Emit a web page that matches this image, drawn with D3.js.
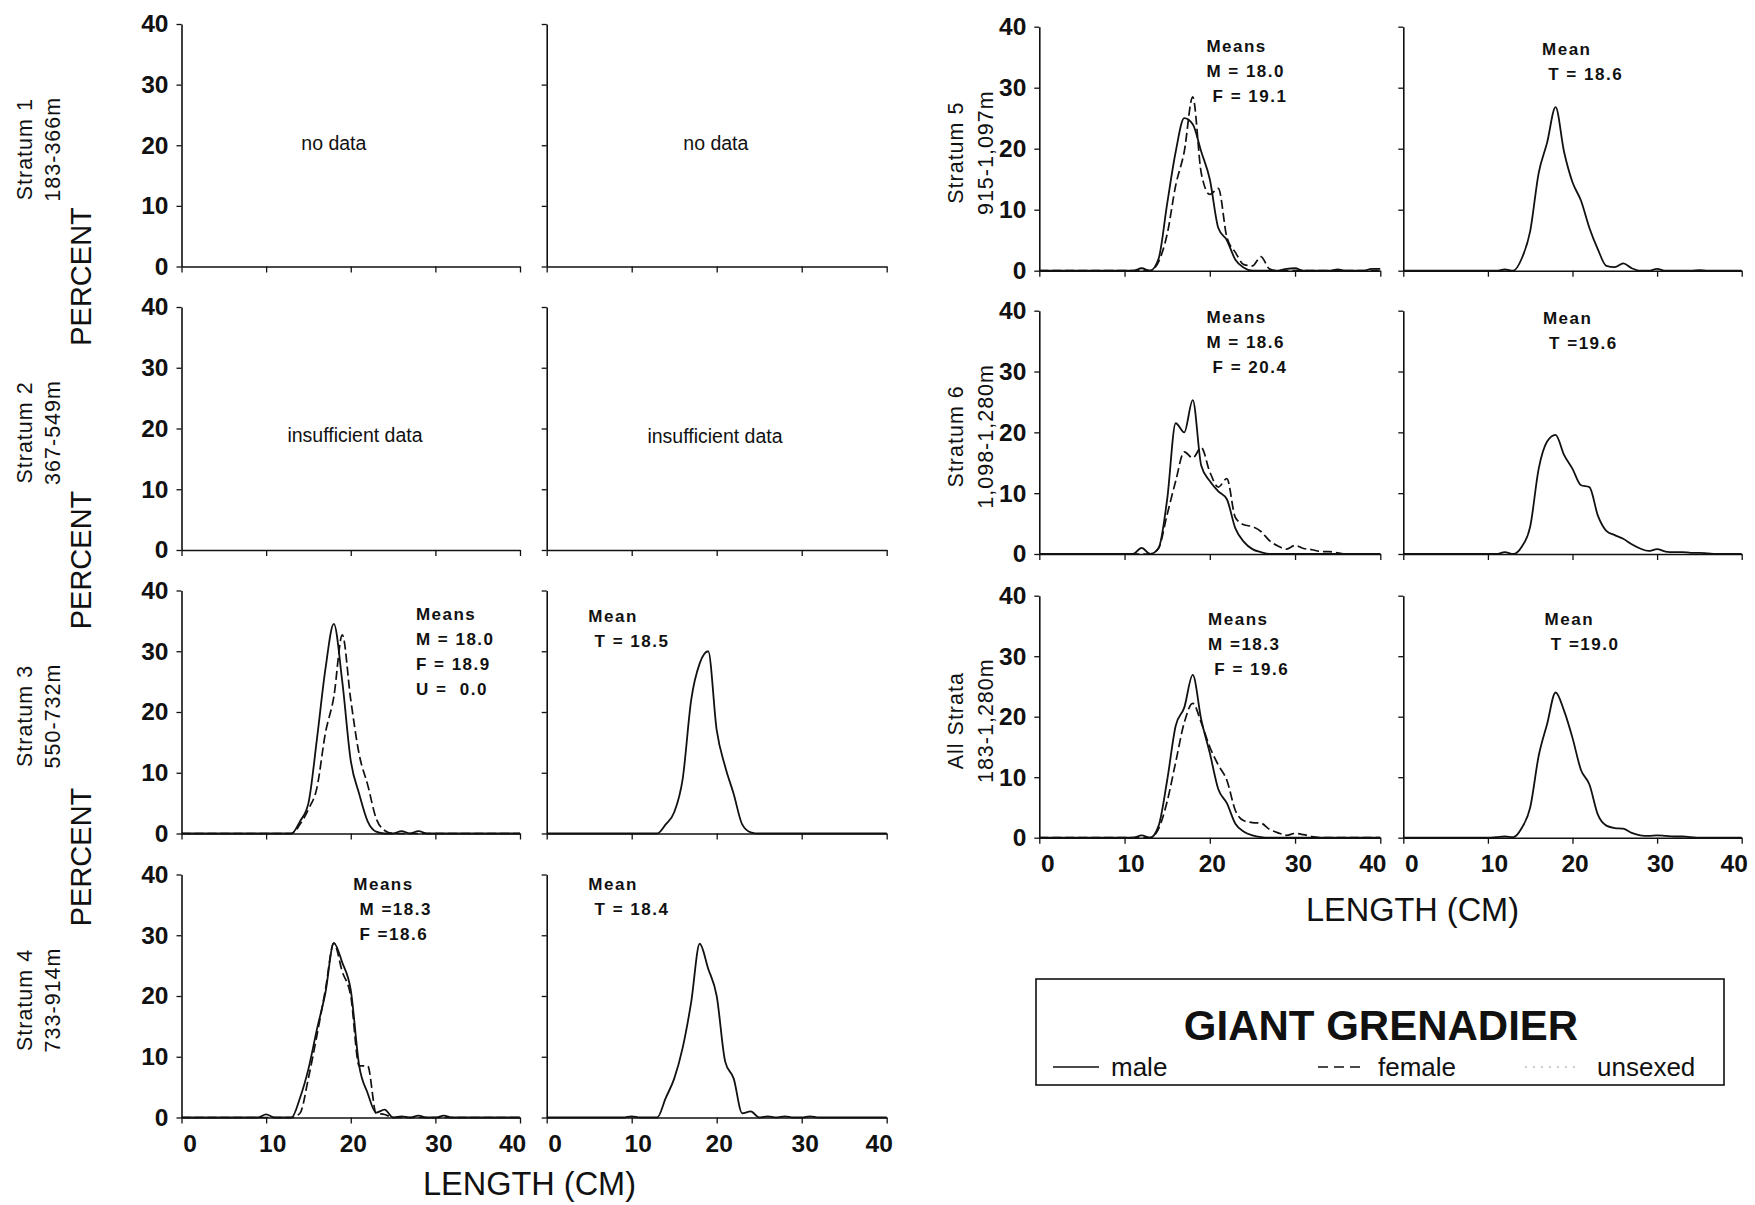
<!DOCTYPE html>
<html><head><meta charset="utf-8">
<script src="https://cdn.jsdelivr.net/npm/d3@7/dist/d3.min.js"></script>
<style>
html,body{margin:0;padding:0;background:#fff;}
svg{display:block;background:#fff;}
text{font-family:"Liberation Sans", Arial, Helvetica, sans-serif; fill:#111;}
</style></head><body>
<svg id="chart" width="1755" height="1205"></svg>
<script>
// ---------- DATA ----------
const lengthsCm = [0,1,2,3,4,5,6,7,8,9,10,11,12,13,14,15,16,17,18,19,20,21,22,23,24,25,26,27,28,29,30,31,32,33,34,35,36,37,38,39,40];
const xTickValues = [0,10,20,30,40];
const yTickValues = [0,10,20,30,40];

const s3Male   = [0,0,0,0,0,0,0,0,0,0, 0,0,0,0,2,5,15.5,27,34.5,25, 12,6.5,2,0.3,0,0,0.4,0,0.4,0, 0,0,0,0,0,0,0,0,0,0,0];
const s3Female = [0,0,0,0,0,0,0,0,0,0, 0,0,0,0,1.5,4,7.5,16.5,22.5,32.7, 22,13,8,2.5,0.5,0,0,0,0,0, 0,0,0,0,0,0,0,0,0,0,0];
const s3Total  = [0,0,0,0,0,0,0,0,0,0, 0,0,0,0,1.5,3.5,9,22,28,30, 17,11,6.5,1.5,0.2,0,0,0,0,0, 0,0,0,0,0,0,0,0,0,0,0];

const s4Male   = [0,0,0,0,0,0,0,0,0,0, 0.5,0,0,0,3.2,8,14.5,20.5,28.7,25.5, 21,8.5,4,0.8,1.3,0,0.2,0,0.3,0, 0,0.3,0,0,0,0,0,0,0,0,0];
const s4Female = [0,0,0,0,0,0,0,0,0,0, 0,0,0,0,0.7,6.5,13.5,21,28.7,24, 20,8.5,8.5,0.7,0.5,0,0,0,0,0, 0,0,0,0,0,0,0,0,0,0,0];
const s4Total  = [0,0,0,0,0,0,0,0,0,0, 0.2,0,0,0,3.2,6.4,11.5,19,28.6,24.5, 20,9.2,6.4,0.7,1,0,0.2,0,0.2,0, 0,0.2,0,0,0,0,0,0,0,0,0];

const s5Male   = [0,0,0,0,0,0,0,0,0,0, 0,0,0.4,0,2,11,19.5,25,24,19.5, 15,7,5,1.8,0.5,0,0,0,0,0.3, 0.4,0,0,0,0,0.2,0,0,0,0.3,0.3];
const s5Female = [0,0,0,0,0,0,0,0,0,0, 0,0,0,0,1.5,6,14,19.5,28.5,16, 12.5,13.5,5.5,3,1,0.8,2.3,0.3,0,0, 0,0,0,0,0,0,0,0,0,0,0];
const s5Total  = [0,0,0,0,0,0,0,0,0,0, 0,0,0.2,0,2,6.5,16,21,26.8,19.5, 14.5,11.5,7,3.5,0.8,0.6,1.2,0.4,0,0, 0.3,0,0,0,0,0.1,0,0,0,0,0];

const s6Male   = [0,0,0,0,0,0,0,0,0,0, 0,0,1,0,1,9,21.5,20,25.3,14.5, 12,10.3,9,4.2,2,0.8,0.3,0,0,0, 0,0,0,0,0,0,0,0,0,0,0];
const s6Female = [0,0,0,0,0,0,0,0,0,0, 0,0,0,0,1,6.5,12,16.8,15.8,17.5, 13.5,11,12.4,6,4.8,4.5,3.7,2.2,1.3,0.8, 1.4,0.9,0.7,0.4,0.4,0.2,0,0,0,0,0];
const s6Total  = [0,0,0,0,0,0,0,0,0,0, 0,0,0.3,0,1.2,4.5,14,18.5,19.6,16.3, 14,11.3,11,6.3,3.8,3.1,2.5,1.6,0.9,0.5, 0.8,0.4,0.3,0.3,0.2,0.2,0.1,0,0,0,0];

const allMale   = [0,0,0,0,0,0,0,0,0,0, 0,0,0.4,0,2,9.5,18.5,21.5,26.9,19.5, 14,8,5.7,2.3,1,0.4,0.1,0,0,0, 0,0,0,0,0,0,0,0,0,0,0];
const allFemale = [0,0,0,0,0,0,0,0,0,0, 0,0,0,0,1.5,6,12.5,19,22.2,19, 15,12,9.5,4.5,2.8,2.5,2.4,1.4,0.8,0.4, 0.7,0.5,0.2,0,0,0,0,0,0,0,0];
const allTotal  = [0,0,0,0,0,0,0,0,0,0, 0,0.1,0.2,0.1,1.6,5,13.5,18.8,24,21, 16.5,11.2,8.8,3.8,2,1.6,1.5,0.8,0.4,0.3, 0.4,0.3,0.2,0.2,0.1,0,0,0,0,0,0];

const stratumNames = ["Stratum 1","Stratum 2","Stratum 3","Stratum 4","Stratum 5","Stratum 6","All Strata"];
const depthRanges  = ["183-366m","367-549m","550-732m","733-914m","915-1,097m","1,098-1,280m","183-1,280m"];

const notesS3M = ["Means","M = 18.0","F = 18.9","U =  0.0"];
const notesS3T = ["Mean"," T = 18.5"];
const notesS4M = ["Means"," M =18.3"," F =18.6"];
const notesS4T = ["Mean"," T = 18.4"];
const notesS5M = ["Means","M = 18.0"," F = 19.1"];
const notesS5T = ["Mean"," T = 18.6"];
const notesS6M = ["Means","M = 18.6"," F = 20.4"];
const notesS6T = ["Mean"," T =19.6"];
const notesAllM = ["Means","M =18.3"," F = 19.6"];
const notesAllT = ["Mean"," T =19.0"];

const legendTitle = "GIANT GRENADIER";
const legendItems = ["male","female","unsexed"];

// ---------- LAYOUT ----------
const colX = {A:[181.5,520], B:[546.7,886.7], C:[1039.3,1380.3], D:[1403.3,1741.7]};
const rowY = {1:[266.5,24], 2:[550,307], 3:[833.5,590.5], 4:[1117.5,874.5],
              5:[270.7,26.7], 6:[554,310.7], 7:[837.7,595.7]};
const xLabelShift = [8, 6, 2, 3, -8];

const panels = [
  {col:"A",row:1,msg:"no data",msgAt:[18,20.4]},
  {col:"B",row:1,msg:"no data",msgAt:[19.9,20.3]},
  {col:"A",row:2,msg:"insufficient data",msgAt:[20.5,19]},
  {col:"B",row:2,msg:"insufficient data",msgAt:[19.8,18.8]},
  {col:"A",row:3,male:s3Male,female:s3Female,note:notesS3M,noteAt:[27.7,36.0]},
  {col:"B",row:3,total:s3Total,note:notesS3T,noteAt:[4.9,35.7]},
  {col:"A",row:4,male:s4Male,female:s4Female,note:notesS4M,noteAt:[20.3,38.4]},
  {col:"B",row:4,total:s4Total,note:notesS4T,noteAt:[4.9,38.4]},
  {col:"C",row:5,male:s5Male,female:s5Female,note:notesS5M,noteAt:[19.6,36.7]},
  {col:"D",row:5,total:s5Total,note:notesS5T,noteAt:[16.4,36.3]},
  {col:"C",row:6,male:s6Male,female:s6Female,note:notesS6M,noteAt:[19.6,38.9]},
  {col:"D",row:6,total:s6Total,note:notesS6T,noteAt:[16.5,38.7]},
  {col:"C",row:7,male:allMale,female:allFemale,note:notesAllM,noteAt:[19.8,36.1]},
  {col:"D",row:7,total:allTotal,note:notesAllT,noteAt:[16.7,36.0]}
];

const svg = d3.select("#chart");
svg.append("rect").attr("width",1755).attr("height",1205).attr("fill","#fff");

panels.forEach(p => {
  const [x0,x1] = colX[p.col];
  const [y0,y1] = rowY[p.row];
  const x = d3.scaleLinear().domain([0,40]).range([x0,x1]);
  const y = d3.scaleLinear().domain([0,40]).range([y0,y1]);
  const g = svg.append("g");
  const showY = (p.col === "A" || p.col === "C");
  const showX = (p.row === 4 || p.row === 7);

  const yAxis = d3.axisLeft(y).tickValues(yTickValues).tickSize(5).tickSizeOuter(0)
    .tickPadding(8).tickFormat(showY ? (d => d) : (() => ""));
  const ya = g.append("g").attr("transform",`translate(${x0},0)`).call(yAxis);
  const xAxis = d3.axisBottom(x).tickValues(xTickValues).tickSize(6).tickSizeOuter(0)
    .tickPadding(11).tickFormat(showX ? (d => d) : (() => ""));
  const xa = g.append("g").attr("transform",`translate(0,${y0})`).call(xAxis);

  [ya, xa].forEach(a => {
    a.select(".domain").attr("stroke","#111").attr("stroke-width",1.6);
    a.selectAll(".tick line").attr("stroke","#111").attr("stroke-width",1.3);
    a.selectAll(".tick text").attr("font-size",24.5).attr("font-weight","bold")
      .attr("font-family","'Liberation Sans', Arial, sans-serif").attr("fill","#111");
  });
  xa.selectAll(".tick text").attr("dx", (d,i) => xLabelShift[i]);

  const line = d3.line().curve(d3.curveMonotoneX)
    .x((d,i) => x(lengthsCm[i])).y(d => y(d));
  if (p.female) {
    g.append("path").datum(p.female).attr("d", line).attr("fill","none")
      .attr("stroke","#111").attr("stroke-width",1.7).attr("stroke-dasharray","9,4");
  }
  if (p.male) {
    g.append("path").datum(p.male).attr("d", line).attr("fill","none")
      .attr("stroke","#111").attr("stroke-width",1.8);
  }
  if (p.total) {
    g.append("path").datum(p.total).attr("d", line).attr("fill","none")
      .attr("stroke","#111").attr("stroke-width",1.8);
  }
  if (p.msg) {
    g.append("text").attr("x", x(p.msgAt[0])).attr("y", y(p.msgAt[1]))
      .attr("text-anchor","middle").attr("dominant-baseline","central")
      .attr("font-size",19.5).text(p.msg);
  }
  if (p.note) {
    const t = g.append("text").attr("font-size",17).attr("font-weight","bold")
      .attr("letter-spacing",1.5).style("white-space","pre");
    p.note.forEach((s,i) => {
      t.append("tspan").attr("x", x(p.noteAt[0])).attr("y", y(p.noteAt[1]) + i*25)
        .attr("dominant-baseline","central").text(s);
    });
  }
});

// Stratum labels (rotated)
stratumNames.forEach((name,i) => {
  const row = i + 1;
  const right = row >= 5;
  const ax = right ? colX.C[0] : colX.A[0];
  const [y0,y1] = rowY[row];
  const cy = (y0 + y1) / 2 + 4;
  const lx1 = ax - (right ? 83 : 156.5);
  const lx2 = ax - (right ? 53 : 129);
  [[name,lx1],[depthRanges[i],lx2]].forEach(([s,lx]) => {
    svg.append("text").attr("transform",`translate(${lx},${cy}) rotate(-90)`)
      .attr("text-anchor","middle").attr("dominant-baseline","central")
      .attr("font-size",21.5).attr("letter-spacing",1).text(s);
  });
});

// PERCENT labels
[276.5, 560, 857].forEach(cy => {
  svg.append("text").attr("transform",`translate(81,${cy}) rotate(-90)`)
    .attr("text-anchor","middle").attr("dominant-baseline","central")
    .attr("font-size",29).text("PERCENT");
});

// LENGTH labels
[[529.5,1184],[1412.5,910]].forEach(([cx,cy]) => {
  svg.append("text").attr("x",cx).attr("y",cy).attr("text-anchor","middle")
    .attr("dominant-baseline","central").attr("font-size",32.5).text("LENGTH (CM)");
});

// Legend box
const lg = svg.append("g");
lg.append("rect").attr("x",1036).attr("y",979).attr("width",688).attr("height",106)
  .attr("fill","none").attr("stroke","#111").attr("stroke-width",1.6);
lg.append("text").attr("x",1381).attr("y",1025).attr("text-anchor","middle")
  .attr("dominant-baseline","central").attr("font-size",42).attr("font-weight","bold")
  .text(legendTitle);
const legendStyles = [
  {x1:1053,x2:1099,tx:1111,dash:null,color:"#111",w:1.6},
  {x1:1318,x2:1364,tx:1378,dash:"10,6",color:"#111",w:1.6},
  {x1:1525,x2:1578,tx:1597,dash:"2,6",color:"#999",w:1.2}
];
legendItems.forEach((name,i) => {
  const s = legendStyles[i];
  const ln = lg.append("line").attr("x1",s.x1).attr("x2",s.x2).attr("y1",1067).attr("y2",1067)
    .attr("stroke",s.color).attr("stroke-width",s.w);
  if (s.dash) ln.attr("stroke-dasharray",s.dash);
  lg.append("text").attr("x",s.tx).attr("y",1067).attr("dominant-baseline","central")
    .attr("font-size",26).text(name);
});
</script>
</body></html>
